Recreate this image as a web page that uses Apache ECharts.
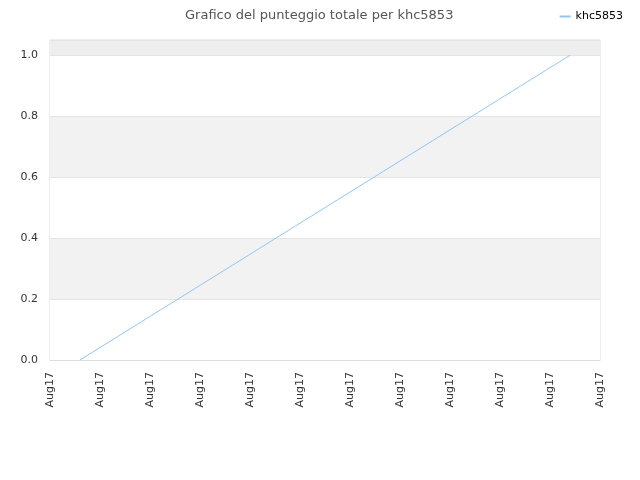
<!DOCTYPE html>
<html>
<head>
<meta charset="utf-8">
<script src="https://cdn.jsdelivr.net/npm/echarts@6/dist/echarts.min.js"></script>
<style>
html, body { margin: 0; padding: 0; background: #fff; }
#main { width: 640px; height: 480px; }
</style>
</head>
<body>
<div id="main"></div>
<script>
var tickLabels = ['Aug17', 'Aug17', 'Aug17', 'Aug17', 'Aug17', 'Aug17', 'Aug17', 'Aug17', 'Aug17', 'Aug17', 'Aug17', 'Aug17'];
var pointX = [0.6, 10.4];
var scores = [0, 1];

var seriesData = [];
for (var i = 0; i < pointX.length; i++) {
    seriesData.push([pointX[i], scores[i]]);
}

var myChart = echarts.init(document.getElementById('main'));
var option = {
    animation: false,
    textStyle: { fontFamily: 'DejaVu Sans' },
    title: {
        text: 'Grafico del punteggio totale per khc5853',
        left: 180,
        top: 4,
        textStyle: { fontSize: 13, fontWeight: 'normal', color: '#555' }
    },
    legend: {
        data: ['khc5853'],
        right: 12,
        top: 6,
        itemWidth: 11,
        itemHeight: 2,
        itemGap: 8,
        icon: 'rect',
        textStyle: { fontSize: 11, color: '#000' }
    },
    grid: {
        left: 50, right: 40, top: 40, bottom: 120,
        show: true, borderColor: '#ddd', borderWidth: 1
    },
    xAxis: {
        type: 'value',
        min: 0, max: 11, interval: 1,
        axisLine: { show: true, lineStyle: { color: '#ddd' } },
        axisTick: { show: false },
        splitLine: { show: false },
        axisLabel: {
            rotate: 90,
            fontSize: 11,
            color: '#333',
            margin: 12,
            formatter: function (v) { return tickLabels[Math.round(v)] || ''; }
        }
    },
    yAxis: {
        type: 'value',
        min: 0, max: 1.05, interval: 0.2,
        axisLine: { show: false },
        axisTick: { show: false },
        splitLine: { show: true, lineStyle: { color: '#e4e4e4' } },
        splitArea: {
            show: true,
            areaStyle: { color: ['#ffffff', '#f2f2f2', '#ffffff', '#f2f2f2', '#ffffff', '#eeeeee'] }
        },
        axisLabel: {
            fontSize: 11,
            color: '#333',
            margin: 12,
            showMaxLabel: false,
            formatter: function (v) { return v.toFixed(1); }
        }
    },
    series: [{
        name: 'khc5853',
        type: 'line',
        data: seriesData,
        showSymbol: false,
        symbol: 'none',
        lineStyle: { color: '#92c5f7', width: 1 },
        itemStyle: { color: '#92c5f7' }
    }]
};
myChart.setOption(option);
</script>
</body>
</html>
